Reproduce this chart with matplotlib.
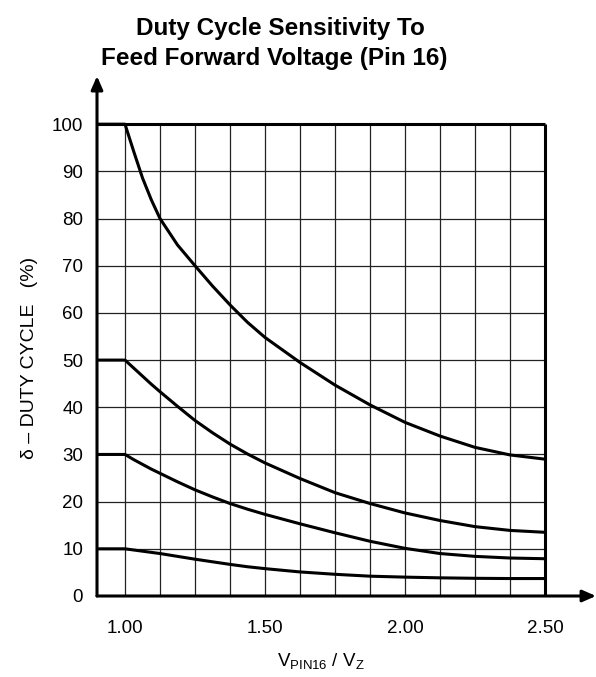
import matplotlib
matplotlib.use('Agg')
import matplotlib.pyplot as plt
import matplotlib.transforms as mtransforms
import numpy as np

plt.rcParams['font.family'] = 'Liberation Sans'
plt.rcParams['mathtext.fontset'] = 'custom'
plt.rcParams['mathtext.rm'] = 'Liberation Sans'

# V_PIN16 / V_Z sample points (curves are flat below 1.00)
x = [0.90, 1.00, 1.03125, 1.0625, 1.09375, 1.125, 1.1875, 1.25, 1.3125, 1.375,
     1.4375, 1.50, 1.625, 1.75, 1.875, 2.00, 2.125, 2.25, 2.375, 2.50]

# duty cycle (%) for the four starting duty cycles
d100 = [100, 100, 94.2, 88.6, 84.0, 80.0, 74.4, 70.0, 65.7, 61.7,
        58.0, 54.8, 49.5, 44.7, 40.5, 36.8, 33.9, 31.5, 29.9, 29.0]
d50 = [50, 50, 48.3, 46.6, 44.9, 43.3, 40.2, 37.2, 34.6, 32.2,
       30.1, 28.2, 24.9, 21.9, 19.6, 17.6, 16.0, 14.7, 13.9, 13.5]
d30 = [30, 30, 28.9, 27.9, 26.9, 26.0, 24.2, 22.5, 21.0, 19.6,
       18.4, 17.3, 15.3, 13.4, 11.6, 10.1, 9.0, 8.4, 8.05, 7.9]
d10 = [10, 10, 9.75, 9.5, 9.25, 9.0, 8.4, 7.8, 7.25, 6.7,
       6.2, 5.8, 5.1, 4.6, 4.2, 4.0, 3.85, 3.75, 3.7, 3.7]

xticks = [1.0, 1.5, 2.0, 2.5]
xticklabels = ['1.00', '1.50', '2.00', '2.50']
yticks = list(range(0, 101, 10))

fig = plt.figure(figsize=(5.96, 6.77), dpi=100)
ax = fig.add_axes([97 / 596, 81 / 677, 499 / 596, 519 / 677])
ax.set_xlim(0.9, 2.682)
ax.set_ylim(0, 110)

for s in ax.spines.values():
    s.set_visible(False)

# grid inside the frame
ax.vlines(np.arange(1.0, 2.45, 0.125), 0, 100, color='#222222', lw=0.9, zorder=1)
ax.hlines(yticks[1:-1], 0.9, 2.5, color='#222222', lw=0.9, zorder=1)

# frame and axes with arrows
ax.hlines(100, 0.9, 2.5, color='black', lw=2.2, zorder=3)
ax.vlines(2.5, 0, 100, color='black', lw=2.2, zorder=3)
ax.annotate('', xy=(0.9, 110.2), xytext=(0.9, 0), annotation_clip=False,
            arrowprops=dict(arrowstyle='-|>,head_length=0.8,head_width=0.35',
                            color='black', lw=2.2, shrinkA=0, shrinkB=0))
ax.annotate('', xy=(2.682, 0), xytext=(0.9, 0), annotation_clip=False,
            arrowprops=dict(arrowstyle='-|>,head_length=0.8,head_width=0.35',
                            color='black', lw=2.2, shrinkA=0, shrinkB=0))

for d in (d100, d50, d30, d10):
    ax.plot(x, d, color='black', lw=2.2, solid_capstyle='butt',
            solid_joinstyle='round', zorder=4)

ax.set_xticks(xticks)
ax.set_xticklabels(xticklabels)
ax.set_yticks(yticks)
ax.tick_params(axis='both', length=0, labelsize=13.5, colors='black')
ax.tick_params(axis='x', pad=17)
ax.tick_params(axis='y', pad=10)

tr = mtransforms.blended_transform_factory(ax.transData, fig.transFigure)
ax.text(1.7, 1 - 662 / 677, r'V$_{\mathrm{PIN16}}$ / V$_{\mathrm{Z}}$',
        transform=tr, ha='center', va='center', fontsize=13.5)
tr2 = mtransforms.blended_transform_factory(fig.transFigure, ax.transData)
ax.text(30 / 596, 50.5, '\u03b4 \u2013 DUTY CYCLE   (%)', transform=tr2,
        rotation=90, ha='center', va='center', fontsize=14)

fig.text(280 / 596, 1 - 28 / 677, 'Duty Cycle Sensitivity To',
         ha='center', va='center', fontsize=17.5, fontweight='bold')
fig.text(274 / 596, 1 - 58 / 677, 'Feed Forward Voltage (Pin 16)',
         ha='center', va='center', fontsize=17.5, fontweight='bold')

fig.savefig('out.png', dpi=100)
